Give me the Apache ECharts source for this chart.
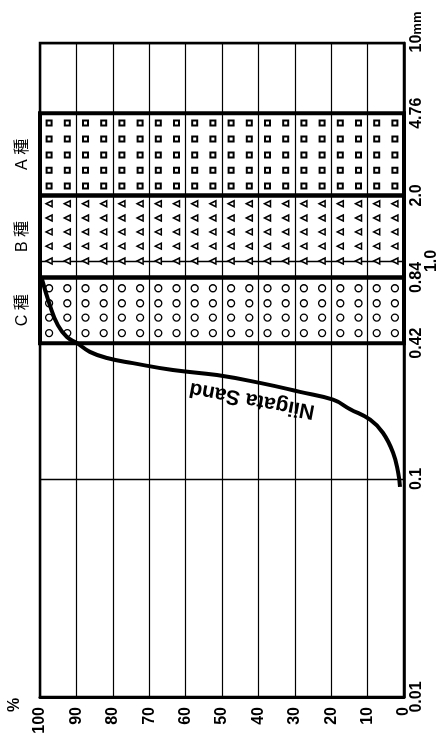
<!DOCTYPE html>
<html><head><meta charset="utf-8">
<script src="https://cdn.jsdelivr.net/npm/echarts@6/dist/echarts.min.js"></script>
<style>html,body{margin:0;padding:0;background:#fff}#c{width:448px;height:744px}</style>
</head><body><div id="c"></div>
<script>
// ---- data ----
const percentMin = 0, percentMax = 100, percentStep = 10;
const sizeMin = 0.01, sizeMax = 10;
const sizeTickValues = [0.01, 0.1, 0.42, 0.84, 1, 2, 4.76, 10];
const sizeTickLabels = ['0.01', '0.1', '0.42', '0.84', '1.0', '2.0', '4.76', '10'];
const bandNames = ['A 種', 'B 種', 'C 種'];
const bandLower = [2.0, 0.84, 0.42];
const bandUpper = [4.76, 2.0, 0.84];
const patternColumns = [97.5, 92.5, 87.5, 82.5, 77.5, 72.5, 67.5, 62.5, 57.5, 52.5,
                        47.5, 42.5, 37.5, 32.5, 27.5, 22.5, 17.5, 12.5, 7.5, 2.5];
const rowsA = [4.30, 3.63, 3.06, 2.61, 2.21];
const rowsB = [1.83, 1.575, 1.36, 1.17, 1.0];
const rowsC = [0.75, 0.64, 0.55, 0.467];
const curveName = 'Niigata Sand';
const curvePercent = [99.5, 97.3, 95.1, 92.6, 89.8, 86.3, 81.6, 74.5, 63.5, 51.4, 39.6, 28.6, 19.5, 14.8, 9.3, 5.8, 3.0, 1.6, 1.1];
const curveSize    = [0.83, 0.628, 0.508, 0.448, 0.42, 0.383, 0.359, 0.340, 0.316, 0.300, 0.276, 0.251, 0.231, 0.209, 0.187, 0.163, 0.132, 0.107, 0.092];

// ---- build ----
const font = '"Liberation Sans", Arial, "Noto Sans CJK JP", sans-serif';
function grid(rows) {
  const out = [];
  rows.forEach(r => patternColumns.forEach(c => out.push([c, r])));
  return out;
}
const curveData = curvePercent.map((p, i) => [p, curveSize[i]]);
const symbols = [
  {symbol: 'rect', size: 5, rotate: 0, border: 2},
  {symbol: 'triangle', size: 6, rotate: 90, border: 1.5},
  {symbol: 'circle', size: 7, rotate: 0, border: 1.3}
];
const rowSets = [rowsA, rowsB, rowsC];
const bandSeries = bandNames.map((name, i) => ({
  type: 'scatter',
  name: name,
  data: grid(rowSets[i]),
  symbol: symbols[i].symbol,
  symbolSize: symbols[i].size,
  symbolRotate: symbols[i].rotate,
  itemStyle: {color: '#fff', borderColor: '#000', borderWidth: symbols[i].border, opacity: 1},
  silent: true,
  z: 3,
  markArea: {
    silent: true,
    itemStyle: {color: 'rgba(0,0,0,0)', borderColor: '#000', borderWidth: 4},
    label: {
      show: true, position: 'left', distance: 7, rotate: 90,
      align: 'center', verticalAlign: 'bottom',
      fontSize: 16, color: '#000', fontFamily: font
    },
    data: [[{name: name, xAxis: percentMin, yAxis: bandLower[i]}, {xAxis: percentMax, yAxis: bandUpper[i]}]]
  }
}));

const chart = echarts.init(document.getElementById('c'), null, {renderer: 'canvas'});
chart.setOption({
  backgroundColor: '#fff',
  animation: false,
  grid: {left: 40, right: 44, top: 43, bottom: 47, show: true, borderColor: '#000', borderWidth: 2.5, backgroundColor: 'rgba(0,0,0,0)'},
  xAxis: {
    type: 'value', min: percentMin, max: percentMax, interval: percentStep, inverse: true,
    position: 'bottom',
    axisLine: {show: true, lineStyle: {color: '#000', width: 3}},
    axisTick: {show: false},
    splitLine: {show: true, lineStyle: {color: '#000', width: 1.2}},
    axisLabel: {rotate: 90, margin: 10, color: '#000', fontSize: 16, fontWeight: 'bold', fontFamily: font}
  },
  yAxis: {
    type: 'log', logBase: 10, min: sizeMin, max: sizeMax, position: 'right',
    axisLine: {show: true, lineStyle: {color: '#000', width: 2.5}},
    axisTick: {show: false},
    splitLine: {show: true, lineStyle: {color: '#000', width: 1.3}},
    axisLabel: {
      customValues: sizeTickValues,
      rotate: 90, margin: 5, color: '#000', fontSize: 16, fontWeight: 'bold', fontFamily: font,
      formatter: function (v) {
        let k = -1;
        sizeTickValues.forEach((t, i) => { if (Math.abs(t - v) < 1e-6 * Math.max(1, t)) k = i; });
        const s = k >= 0 ? sizeTickLabels[k] : String(v);
        if (s === '10') return '{sp|}{n|10}{u|mm}';
        if (s === '1.0') return '{sh|1.0}';
        return s;
      },
      rich: {
        sp: {width: 22},
        n: {fontSize: 16, fontWeight: 'bold', fontFamily: font},
        u: {fontSize: 13, fontWeight: 'bold', fontFamily: font},
        sh: {fontSize: 16, fontWeight: 'bold', fontFamily: font, padding: [15, 0, 0, 0]}
      }
    }
  },
  graphic: [
    {type: 'text', x: 252, y: 400, rotation: 2.955, z: 20,
     style: {text: curveName, fill: '#000', font: 'bold 21px ' + font, textAlign: 'center', textVerticalAlign: 'middle'}},
    {type: 'text', x: 15, y: 705, rotation: Math.PI / 2, z: 20,
     style: {text: '%', fill: '#000', font: 'bold 16px ' + font, textAlign: 'center', textVerticalAlign: 'middle'}}
  ],
  series: bandSeries.concat([{
    type: 'line', name: curveName, data: curveData, smooth: 0.45, showSymbol: false, silent: true,
    lineStyle: {color: '#000', width: 4}, z: 10
  }])
});
</script></body></html>
